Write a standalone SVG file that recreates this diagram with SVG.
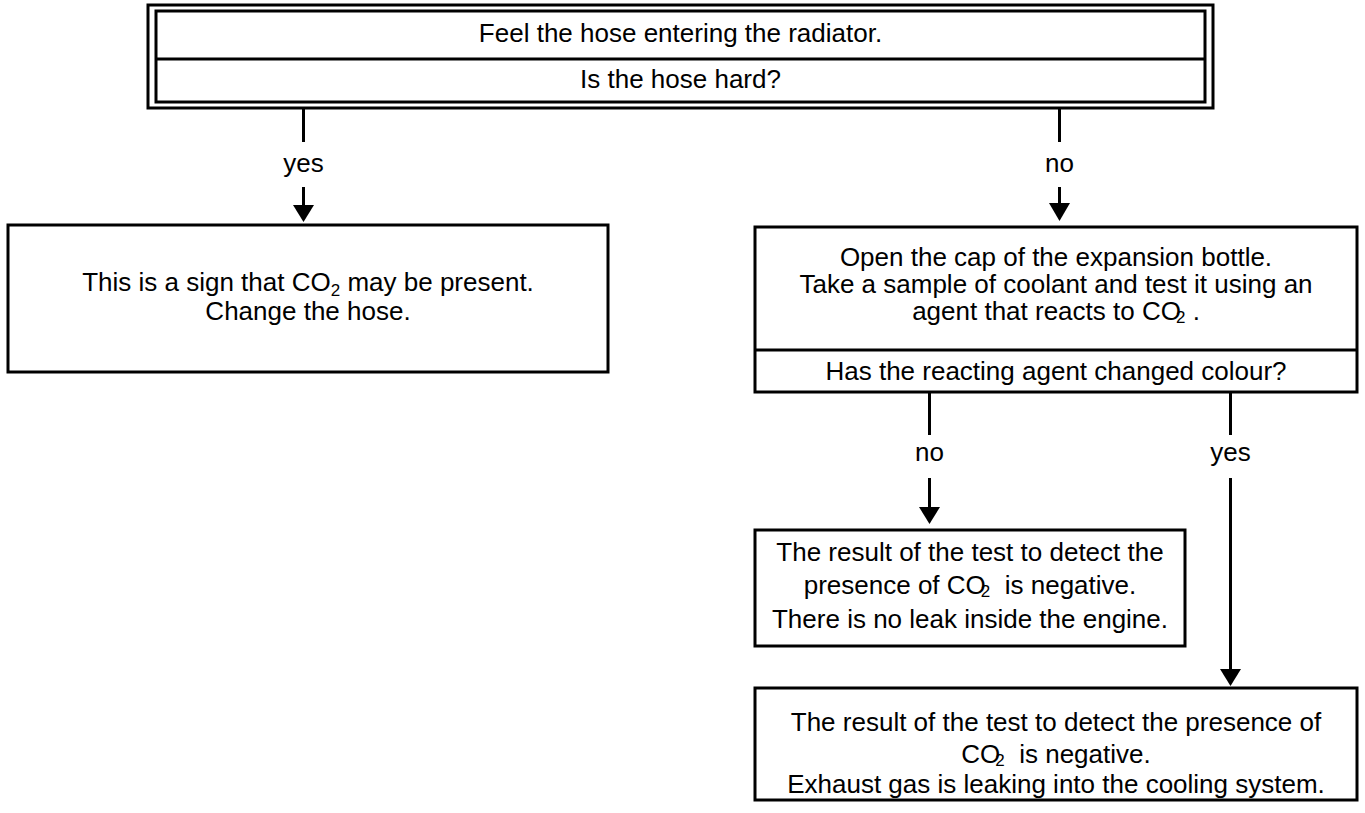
<svg xmlns="http://www.w3.org/2000/svg" width="1365" height="813" viewBox="0 0 1365 813">
  <style>
    .box { fill: #ffffff; stroke: #000000; stroke-width: 3; }
    .line { fill: none; stroke: #000000; stroke-width: 3; }
    .head { fill: #000000; }
    .t { font-family: "Liberation Sans", Arial, sans-serif; font-size: 26px; fill: #000000; text-anchor: middle; }
    .sub { font-size: 17px; }
  </style>
  <rect width="1365" height="813" fill="#ffffff"/>

  <!-- connectors with their branch labels -->
  <g id="connectors">
    <line class="line" x1="303.5" y1="108" x2="303.5" y2="142"/>
    <text class="t" x="303.5" y="172">yes</text>
    <line class="line" x1="303.5" y1="187" x2="303.5" y2="206"/>
    <polygon class="head" points="293,205 314,205 303.5,222"/>

    <line class="line" x1="1059.5" y1="108" x2="1059.5" y2="142"/>
    <text class="t" x="1059.5" y="172">no</text>
    <line class="line" x1="1059.5" y1="187" x2="1059.5" y2="204"/>
    <polygon class="head" points="1049,203 1070,203 1059.5,221"/>

    <line class="line" x1="929.5" y1="392" x2="929.5" y2="435"/>
    <text class="t" x="929.5" y="461">no</text>
    <line class="line" x1="929.5" y1="478" x2="929.5" y2="509"/>
    <polygon class="head" points="919,507 940,507 929.5,524"/>

    <line class="line" x1="1230.5" y1="392" x2="1230.5" y2="435"/>
    <text class="t" x="1230.5" y="461">yes</text>
    <line class="line" x1="1230.5" y1="478" x2="1230.5" y2="671"/>
    <polygon class="head" points="1220,669 1241,669 1230.5,686"/>
  </g>

  <!-- start: double-framed question box -->
  <g id="node-start">
    <rect class="box" x="148" y="5" width="1065" height="103"/>
    <rect class="box" x="156" y="11" width="1049" height="91"/>
    <line class="line" x1="156" y1="59" x2="1205" y2="59"/>
    <text class="t" x="680.5" y="42">Feel the hose entering the radiator.</text>
    <text class="t" x="680.5" y="88">Is the hose hard?</text>
  </g>

  <!-- hard hose -->
  <g id="node-change-hose">
    <rect class="box" x="8" y="225" width="600" height="147"/>
    <text class="t" x="308" y="291">This is a sign that CO<tspan class="sub" dy="5">2</tspan><tspan dy="-5"> may be present.</tspan></text>
    <text class="t" x="308" y="320">Change the hose.</text>
  </g>

  <!-- coolant test -->
  <g id="node-coolant-test">
    <rect class="box" x="755" y="227" width="602" height="165"/>
    <line class="line" x1="755" y1="350" x2="1357" y2="350"/>
    <text class="t" x="1056" y="266">Open the cap of the expansion bottle.</text>
    <text class="t" x="1056" y="293">Take a sample of coolant and test it using an</text>
    <text class="t" x="1056" y="320">agent that reacts to CO<tspan class="sub" dx="-5" dy="3">2</tspan><tspan dy="-3"> .</tspan></text>
    <text class="t" x="1056" y="380">Has the reacting agent changed colour?</text>
  </g>

  <!-- negative result, no leak -->
  <g id="node-no-leak">
    <rect class="box" x="755" y="530" width="430" height="116"/>
    <text class="t" x="970" y="561">The result of the test to detect the</text>
    <text class="t" x="970" y="594">presence of CO<tspan class="sub" dx="-5" dy="3">2</tspan><tspan dy="-3" xml:space="preserve">  is negative.</tspan></text>
    <text class="t" x="970" y="628">There is no leak inside the engine.</text>
  </g>

  <!-- exhaust leak -->
  <g id="node-exhaust-leak">
    <rect class="box" x="755" y="688" width="602" height="112"/>
    <text class="t" x="1056" y="731">The result of the test to detect the presence of</text>
    <text class="t" x="1056" y="763">CO<tspan class="sub" dx="-5" dy="3">2</tspan><tspan dy="-3" xml:space="preserve">  is negative.</tspan></text>
    <text class="t" x="1056" y="793">Exhaust gas is leaking into the cooling system.</text>
  </g>
</svg>
